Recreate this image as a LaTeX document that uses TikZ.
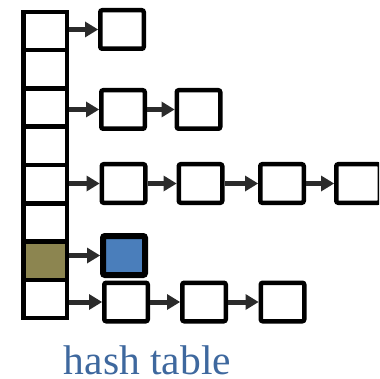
\documentclass[tikz,border=0pt]{standalone}
\usepackage{fontspec}
\setmainfont{Liberation Serif}
\usetikzlibrary{arrows.meta}
\definecolor{olivefill}{RGB}{140,133,80}
\definecolor{bluefill}{RGB}{74,126,187}
\definecolor{arrowgray}{RGB}{43,43,43}
\definecolor{textblue}{RGB}{62,104,158}
\begin{document}
\begin{tikzpicture}[x=1pt,y=-1pt,
  cell/.style={draw=black, line width=4.5pt, minimum width=43.5pt, minimum height=38.25pt, inner sep=0pt, fill=white},
  item/.style={draw=black, line width=4.5pt, rounded corners=2pt, minimum width=43.5pt, minimum height=38.5pt, inner sep=0pt, fill=white},
  hot/.style={draw=black, line width=6pt, rounded corners=2pt, minimum width=42pt, minimum height=39pt, inner sep=0pt, fill=bluefill},
  link/.style={draw=arrowgray, line width=5pt, -{Triangle[length=13pt,width=16pt,line width=0pt]}},
  caption/.style={text=textblue, font=\fontsize{41.5}{48}\selectfont, inner sep=0pt, anchor=base}]
\useasboundingbox (0,0) rectangle (379,379);
\clip (0,0) rectangle (379,379);
% table column
\foreach \i in {0,...,7} {
  \node[cell] (c\i) at (45, {12+38.25*(\i+0.5)}) {};
}
\node[cell, fill=olivefill] at (c6) {};
% chains
\node[item] (b00) at (122,29.5) {};
\node[item] (b20) at (123,109.5) {};
\node[item] (b21) at (198.5,109.5) {};
\node[item] (b40) at (123.5,183.5) {};
\node[item] (b41) at (200.5,183.5) {};
\node[item] (b42) at (282,183.5) {};
\node[item] (b43) at (358,183.5) {};
\node[hot] (b60) at (124,255.5) {};
\node[item] (b70) at (126,302) {};
\node[item] (b71) at (204,302) {};
\node[item] (b72) at (282.5,302) {};
% links
\draw[link] (c0.east |- b00.west) -- (b00.west);
\draw[link] (c2.east |- b20.west) -- (b20.west);
\draw[link] (b20.east) -- (b21.west);
\draw[link] (c4.east |- b40.west) -- (b40.west);
\draw[link] (b40.east) -- (b41.west);
\draw[link] (b41.east) -- (b42.west);
\draw[link] (b42.east) -- (b43.west);
\draw[link] (c6.east |- b60.west) -- (b60.west);
\draw[link] (c7.east |- b70.west) -- (b70.west);
\draw[link] (b70.east) -- (b71.west);
\draw[link] (b71.east) -- (b72.west);
% caption
\node[caption] (cap) at (147.5,374) {hash table};
\end{tikzpicture}
\end{document}
